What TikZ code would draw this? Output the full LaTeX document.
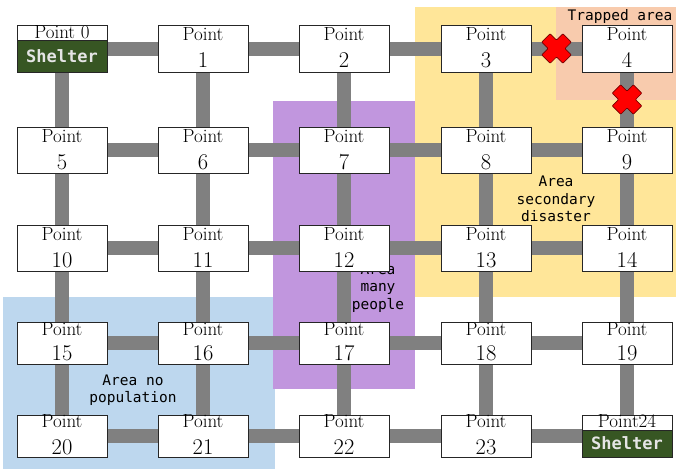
\documentclass[tikz,border=0pt]{standalone}
\usepackage{fontspec}
\newfontfamily\gothic{DejaVu Sans Mono}
\usetikzlibrary{calc}
\pgfdeclarelayer{regions}
\pgfdeclarelayer{roads}
\pgfsetlayers{regions,roads,main}
\definecolor{areablue}{HTML}{BDD7EE}
\definecolor{areapurple}{RGB}{193,150,222}
\definecolor{areayellow}{HTML}{FFE699}
\definecolor{areapeach}{HTML}{F8CBAD}
\definecolor{sheltergreen}{HTML}{375623}
\definecolor{roadgray}{HTML}{808080}
\newcommand\mypoint[7]{%
  \node[ptbox, minimum height=#4] (#1) at (#2,#3) {};
  \node[pttext, anchor=base] (#1t) at ([yshift=-#6]#1.north) {Point};
  \node[numtext, anchor=base] (#1n) at ([yshift=-#7]#1.north) {#5};
}
\begin{document}
\begin{tikzpicture}[x=1pt,y=-1pt,
  ptbox/.style={draw=black!85, line width=0.8pt, fill=white, minimum width=90pt, inner sep=0pt},
  pttext/.style={font=\fontsize{19}{19}\selectfont, inner sep=0pt},
  numtext/.style={font=\fontsize{22.5}{22.5}\selectfont, inner sep=0pt},
  shelterbox/.style={draw=black!85, line width=0.8pt, fill=sheltergreen, minimum width=90pt, inner sep=0pt,
    text=white!90!black, font=\gothic\bfseries\fontsize{17}{17}\selectfont},
  road/.style={draw=roadgray, line width=14pt},
  arealabel/.style={font=\gothic\fontsize{14.5}{17.5}\selectfont, align=center, inner sep=0pt, text=black},
  redx/.pic={\draw[fill=red, draw=red!45!black, line width=0.7pt, rotate=45, rounded corners=0.8pt]
     (6,6) -- (15,6) -- (15,-6) -- (6,-6) -- (6,-15) -- (-6,-15) -- (-6,-6) -- (-15,-6)
     -- (-15,6) -- (-6,6) -- (-6,15) -- (6,15) -- cycle;}
]
\useasboundingbox (0,0) rectangle (676,469);

\begin{pgfonlayer}{regions}
\fill[areablue] (3,297) rectangle (275,469);
\fill[areapurple] (273,101) rectangle (415,389);
\fill[areayellow] (415,7) rectangle (676,297);
\fill[areapeach] (556,7) rectangle (676,100);
\end{pgfonlayer}

% points
\node[ptbox, minimum height=47pt] (p0) at (62,48.5) {};
\mypoint{p1}{203}{48.5}{47pt}{1}{16pt}{43pt}
\mypoint{p2}{344}{48.5}{47pt}{2}{16pt}{43pt}
\mypoint{p3}{486}{48.5}{47pt}{3}{16pt}{43pt}
\mypoint{p4}{627}{48.5}{47pt}{4}{16pt}{43pt}
\mypoint{p5}{62}{150}{46pt}{5}{16pt}{43pt}
\mypoint{p6}{203}{150}{46pt}{6}{16pt}{43pt}
\mypoint{p7}{344}{150}{46pt}{7}{16pt}{43pt}
\mypoint{p8}{486}{150}{46pt}{8}{16pt}{43pt}
\mypoint{p9}{627}{150}{46pt}{9}{16pt}{43pt}
\mypoint{p10}{62}{248}{46pt}{10}{16pt}{43pt}
\mypoint{p11}{203}{248}{46pt}{11}{16pt}{43pt}
\mypoint{p12}{344}{248}{46pt}{12}{16pt}{43pt}
\mypoint{p13}{486}{248}{46pt}{13}{16pt}{43pt}
\mypoint{p14}{627}{248}{46pt}{14}{16pt}{43pt}
\mypoint{p15}{62}{343}{42pt}{15}{14pt}{39pt}
\mypoint{p16}{203}{343}{42pt}{16}{14pt}{39pt}
\mypoint{p17}{344}{343}{42pt}{17}{14pt}{39pt}
\mypoint{p18}{486}{343}{42pt}{18}{14pt}{39pt}
\mypoint{p19}{627}{343}{42pt}{19}{14pt}{39pt}
\mypoint{p20}{62}{436}{42pt}{20}{13pt}{40pt}
\mypoint{p21}{203}{436}{42pt}{21}{13pt}{40pt}
\mypoint{p22}{344}{436}{42pt}{22}{13pt}{40pt}
\mypoint{p23}{486}{436}{42pt}{23}{13pt}{40pt}
\node[ptbox, minimum height=42pt] (p24) at (627,436) {};

% shelters
\node[pttext, anchor=base] (p0lbl) at ([yshift=-13.5pt]p0.north) {Point 0};
\node[shelterbox, minimum height=32pt, anchor=south] (s0) at (p0.south) {Shelter};
\node[pttext, anchor=base] (p24lbl) at ([yshift=-13pt]p24.north) {Point24};
\node[shelterbox, minimum height=27pt, anchor=south] (s24) at (p24.south) {Shelter};

% roads
\begin{pgfonlayer}{roads}
\foreach \a/\b in {0/1,1/2,2/3,3/4,5/6,6/7,7/8,8/9,10/11,11/12,12/13,13/14,
                   15/16,16/17,17/18,18/19,20/21,21/22,22/23,23/24}
  \draw[road] (p\a.center) -- (p\b.center);
\foreach \a in {0,...,19}{
  \pgfmathtruncatemacro{\b}{\a+5}
  \draw[road] (p\a.center) -- (p\b.center);
}
\node[arealabel] (lbltrap) at (620,16) {Trapped area};
\node[arealabel] (lblsec) at (556,199) {Area\\secondary\\disaster};
\node[arealabel] (lblmany) at (378,288) {Area\\many\\people};
\node[arealabel] (lblnopop) at (133,390) {Area no\\population};
\end{pgfonlayer}

% blocked roads
\pic at ($(p3.east)!0.5!(p4.west)$) {redx};
\pic at ($(p4.south)!0.5!(p9.north)$) {redx};
\end{tikzpicture}
\end{document}
